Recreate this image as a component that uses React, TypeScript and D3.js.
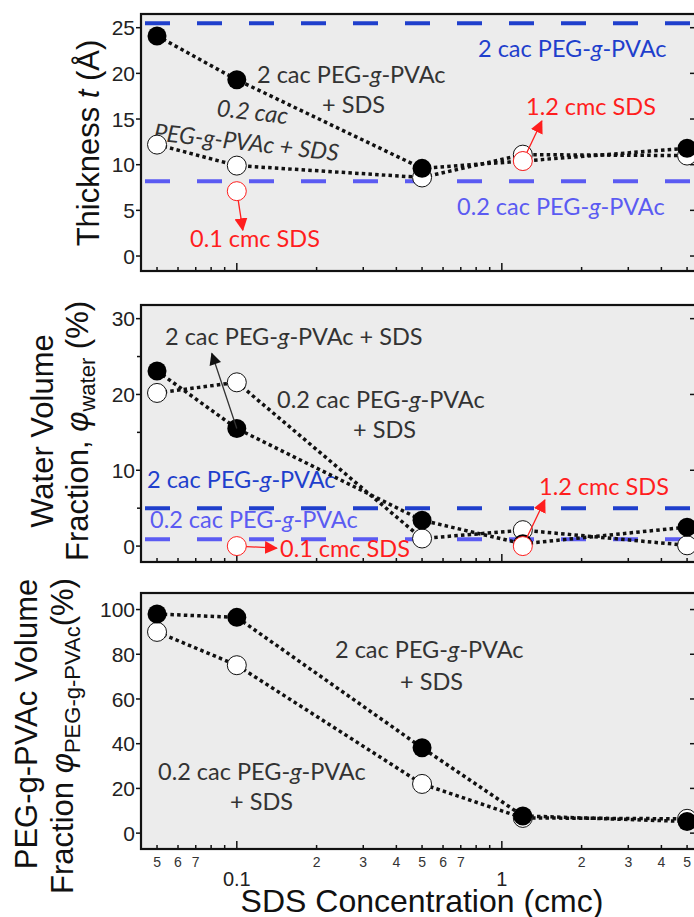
import * as d3 from "d3";

// SDS concentration (cmc)
const sdsConc = [0.05, 0.1, 0.5, 1.2, 5];

// thickness t (Å)
const thick2cac = [24.1, 19.3, 9.6, 10.4, 11.8];
const thick02cac = [12.2, 9.9, 8.6, 11.1, 11.0];
const thickRef2cac = 25.5;
const thickRef02cac = 8.2;
const thickSdsOnly = [{ c: 0.1, v: 7.1 }, { c: 1.2, v: 10.4 }];

// water volume fraction (%)
const water2cac = [23.1, 15.5, 3.4, 0.3, 2.5];
const water02cac = [20.2, 21.6, 1.0, 2.1, 0.1];
const waterRef2cac = 5.0;
const waterRef02cac = 0.9;
const waterSdsOnly = [{ c: 0.1, v: 0 }, { c: 1.2, v: 0 }];

// PEG-g-PVAc volume fraction (%)
const peg2cac = [98, 96.5, 38.2, 7.7, 5.2];
const peg02cac = [90, 75.1, 22, 6.8, 6.4];

const thickTicks = [0, 5, 10, 15, 20, 25];
const waterTicks = [0, 10, 20, 30];
const waterMinor = [5, 15, 25];
const pegTicks = [0, 20, 40, 60, 80, 100];

const xMinorLabels = [
  { v: 0.05, t: "5" }, { v: 0.06, t: "6" }, { v: 0.07, t: "7" },
  { v: 0.2, t: "2" }, { v: 0.3, t: "3" }, { v: 0.4, t: "4" }, { v: 0.5, t: "5" }, { v: 0.6, t: "6" }, { v: 0.7, t: "7" },
  { v: 2, t: "2" }, { v: 3, t: "3" }, { v: 4, t: "4" }, { v: 5, t: "5" },
];
const xMajorLabels = [{ v: 0.1, t: "0.1" }, { v: 1, t: "1" }];

const W = 694;
const H = 917;
const left = 141;
const right = 697;

const BG = "#ececec";
const DARK_BLUE = "#1f3fcc";
const LIGHT_BLUE = "#5b5bf2";
const RED = "#ff1e1e";
const TXT = "#333";
const AXF = "Arial, 'Liberation Sans', sans-serif";
const ANF = "Lato, 'Open Sans', sans-serif";

const x = d3.scaleLog().domain([0.0435, 5.45]).range([left, right]);

const minorX: number[] = [];
[0.01, 0.1, 1].forEach(dec => {
  for (let k = 2; k <= 9; k++) {
    const v = dec * k;
    if (v > 0.044 && v < 5.4) minorX.push(v);
  }
});

const line = (y: d3.ScaleLinear<number, number>) =>
  d3.line<number>().x((_, i) => x(sdsConc[i])).y(d => y(d));

function Frame({ y, top, bottom, ticks, minor = [] }: any) {
  return (
    <g>
      <rect x={left} y={top} width={right - left} height={bottom - top} fill={BG} />
      {ticks.map((t: number) => (
        <g key={t}>
          <line x1={left - 5} x2={left + 1} y1={y(t)} y2={y(t)} stroke="#111" strokeWidth={1.5} />
          <line x1={right - 7} x2={right} y1={y(t)} y2={y(t)} stroke="#111" strokeWidth={1.5} />
          <text x={left - 6} y={y(t)} dy="0.36em" textAnchor="end" fontFamily={AXF} fontSize={21} fill="#222">{t}</text>
        </g>
      ))}
      {minor.map((t: number) => (
        <line key={t} x1={left - 4} x2={left + 1} y1={y(t)} y2={y(t)} stroke="#111" strokeWidth={1.5} />
      ))}
      {minorX.map(v => (
        <line key={v} x1={x(v)} x2={x(v)} y1={bottom} y2={bottom - 4} stroke="#111" strokeWidth={1.5} />
      ))}
      {[0.1, 1].map(v => (
        <line key={v} x1={x(v)} x2={x(v)} y1={bottom} y2={bottom - 8} stroke="#111" strokeWidth={1.5} />
      ))}
    </g>
  );
}

function Border({ top, bottom }: any) {
  return <rect x={left} y={top} width={right - left} height={bottom - top} fill="none" stroke="#111" strokeWidth={2.2} />;
}

function Series({ y, high, low }: any) {
  const l = line(y);
  return (
    <g>
      <path d={l(low) || ""} fill="none" stroke="#111" strokeWidth={3.5} strokeDasharray="3.5 3.2" />
      <path d={l(high) || ""} fill="none" stroke="#111" strokeWidth={3.5} strokeDasharray="3.5 3.2" />
      {low.map((v: number, i: number) => (
        <circle key={"o" + i} cx={x(sdsConc[i])} cy={y(v)} r={9.5} fill="#fff" stroke="#111" strokeWidth={1} />
      ))}
      {high.map((v: number, i: number) => (
        <circle key={"f" + i} cx={x(sdsConc[i])} cy={y(v)} r={9.5} fill="#000" />
      ))}
    </g>
  );
}

function RefLine({ y, v, color }: any) {
  return <line x1={left + 4} x2={right} y1={y(v)} y2={y(v)} stroke={color} strokeWidth={4} strokeDasharray="25 27" />;
}

function Arrow({ x0, y0, dx, dy, color, marker }: any) {
  return <line x1={x0} y1={y0} x2={x0 + dx} y2={y0 + dy} stroke={color} strokeWidth={1.3} markerEnd={`url(#${marker})`} />;
}

function Ann({ x: tx, y: ty, color = TXT, children, italic = false, rotate = 0, size = 23.5 }: any) {
  return (
    <text x={tx} y={ty} fill={color} fontFamily={ANF} fontSize={size} fontStyle={italic ? "italic" : "normal"}
      transform={rotate ? `rotate(${rotate},${tx},${ty})` : undefined}>
      {children}
    </text>
  );
}

const G = () => <tspan fontStyle="italic">g</tspan>;

export default function App() {
  const yT = d3.scaleLinear().domain([-1.64, 26.5]).range([271, 14]);
  const yW = d3.scaleLinear().domain([-2.1, 31.8]).range([562, 305]);
  const yP = d3.scaleLinear().domain([-7.1, 107.4]).range([849, 593]);

  return (
    <div style={{ position: "absolute", left: 0, top: 0, width: W, height: H, overflow: "hidden" }}>
      <svg width={W} height={H} style={{ display: "block", background: "#fff" }}>
        <defs>
          <marker id="redHead" viewBox="0 0 12 12" refX="11" refY="6" markerWidth="13" markerHeight="13" markerUnits="userSpaceOnUse" orient="auto">
            <path d="M0,0 L12,6 L0,12 z" fill={RED} />
          </marker>
          <marker id="blackHead" viewBox="0 0 12 12" refX="11" refY="6" markerWidth="13" markerHeight="12" markerUnits="userSpaceOnUse" orient="auto">
            <path d="M0,0 L12,6 L0,12 z" fill="#111" />
          </marker>
        </defs>

        {/* ---------- thickness ---------- */}
        <Frame y={yT} top={14} bottom={271} ticks={thickTicks} />
        <RefLine y={yT} v={thickRef2cac} color={DARK_BLUE} />
        <RefLine y={yT} v={thickRef02cac} color={LIGHT_BLUE} />
        <Ann x={257} y={83}>2 cac PEG-<G />-PVAc</Ann>
        <Ann x={322} y={113}>+ SDS</Ann>
        <Ann x={216} y={116} italic rotate={6.5}>0.2 cac</Ann>
        <Ann x={153} y={140} italic rotate={6.5}>PEG-g-PVAc + SDS</Ann>
        <Ann x={478} y={57} color={DARK_BLUE}>2 cac PEG-<G />-PVAc</Ann>
        <Ann x={457} y={215} color={LIGHT_BLUE}>0.2 cac PEG-<G />-PVAc</Ann>
        <Ann x={526} y={115} color={RED}>1.2 cmc SDS</Ann>
        <Ann x={190} y={247} color={RED}>0.1 cmc SDS</Ann>
        <Series y={yT} high={thick2cac} low={thick02cac} />
        <Arrow x0={x(0.1)} y0={yT(thickSdsOnly[0].v)} dx={6} dy={39} color={RED} marker="redHead" />
        <Arrow x0={x(1.2)} y0={yT(thickSdsOnly[1].v)} dx={19} dy={-40} color={RED} marker="redHead" />
        {thickSdsOnly.map(d => (
          <circle key={d.c} cx={x(d.c)} cy={yT(d.v)} r={9.5} fill="#fff" stroke={RED} strokeWidth={1} />
        ))}
        <Border top={14} bottom={271} />

        {/* ---------- water ---------- */}
        <Frame y={yW} top={305} bottom={562} ticks={waterTicks} minor={waterMinor} />
        <RefLine y={yW} v={waterRef2cac} color={DARK_BLUE} />
        <RefLine y={yW} v={waterRef02cac} color={LIGHT_BLUE} />
        <Ann x={165} y={345}>2 cac PEG-<G />-PVAc + SDS</Ann>
        <Ann x={277} y={408}>0.2 cac PEG-<G />-PVAc</Ann>
        <Ann x={353} y={438}>+ SDS</Ann>
        <Ann x={147} y={488} color={DARK_BLUE}>2 cac PEG-<G />-PVAc</Ann>
        <Ann x={150} y={528} color={LIGHT_BLUE}>0.2 cac PEG-<G />-PVAc</Ann>
        <Ann x={539} y={495} color={RED}>1.2 cmc SDS</Ann>
        <Ann x={280} y={557} color={RED}>0.1 cmc SDS</Ann>
        <Series y={yW} high={water2cac} low={water02cac} />
        <Arrow x0={x(0.1)} y0={yW(water2cac[1])} dx={-25} dy={-75} color="#333" marker="blackHead" />
        <Arrow x0={x(0.1)} y0={yW(waterSdsOnly[0].v)} dx={40} dy={2} color={RED} marker="redHead" />
        <Arrow x0={x(1.2)} y0={yW(waterSdsOnly[1].v)} dx={22} dy={-46} color={RED} marker="redHead" />
        {waterSdsOnly.map(d => (
          <circle key={d.c} cx={x(d.c)} cy={yW(d.v)} r={9.5} fill="#fff" stroke={RED} strokeWidth={1} />
        ))}
        <Border top={305} bottom={562} />

        {/* ---------- PEG-g-PVAc ---------- */}
        <Frame y={yP} top={593} bottom={849} ticks={pegTicks} />
        <Ann x={335} y={658}>2 cac PEG-<G />-PVAc</Ann>
        <Ann x={400} y={690}>+ SDS</Ann>
        <Ann x={158} y={780}>0.2 cac PEG-<G />-PVAc</Ann>
        <Ann x={230} y={810}>+ SDS</Ann>
        <Series y={yP} high={peg2cac} low={peg02cac} />
        <Border top={593} bottom={849} />

        {/* x axis labels */}
        {xMinorLabels.map(d => (
          <text key={d.v} x={x(d.v)} y={867} textAnchor="middle" fontFamily={AXF} fontSize={14} fill="#333">{d.t}</text>
        ))}
        {xMajorLabels.map(d => (
          <text key={d.v} x={x(d.v)} y={886} textAnchor="middle" fontFamily={AXF} fontSize={20} fill="#222">{d.t}</text>
        ))}
        <text x={422} y={912} textAnchor="middle" fontFamily={AXF} fontSize={32} fill="#111">SDS Concentration (cmc)</text>

        {/* y axis titles */}
        <text transform="translate(99,143) rotate(-90)" textAnchor="middle" fontFamily={AXF} fontSize={31} fill="#111">
          Thickness <tspan fontStyle="italic">t</tspan> (Å)
        </text>
        <text transform="translate(53,431) rotate(-90)" textAnchor="middle" fontFamily={AXF} fontSize={31} fill="#111">
          Water Volume
        </text>
        <text transform="translate(88,431) rotate(-90)" textAnchor="middle" fontFamily={AXF} fontSize={31} fill="#111">
          Fraction, <tspan fontStyle="italic">φ</tspan><tspan fontSize={22} dy={7}>water</tspan><tspan dy={-7}> (%)</tspan>
        </text>
        <text transform="translate(37,724) rotate(-90)" textAnchor="middle" fontFamily={AXF} fontSize={31} fill="#111">
          PEG-g-PVAc Volume
        </text>
        <text transform="translate(73,736) rotate(-90)" textAnchor="middle" fontFamily={AXF} fontSize={31} fill="#111">
          Fraction <tspan fontStyle="italic">φ</tspan><tspan fontSize={22} dy={7}>PEG-g-PVAc</tspan><tspan dy={-7}>(%)</tspan>
        </text>
      </svg>
    </div>
  );
}
